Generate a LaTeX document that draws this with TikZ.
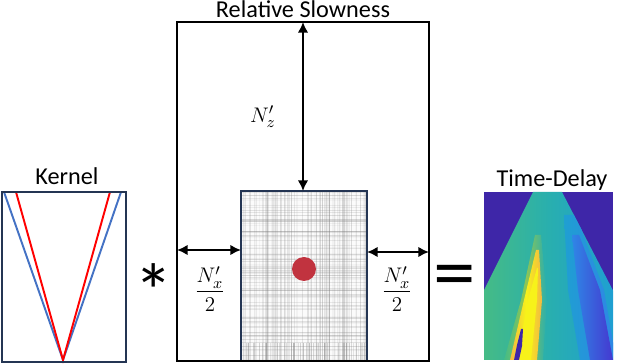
\documentclass[tikz,border=0pt]{standalone}
\usepackage{fontspec}
\setmainfont{Carlito}
\usetikzlibrary{positioning,arrows.meta}

\definecolor{boxnavy}{HTML}{243553}
\definecolor{kblue}{HTML}{4472C4}
\definecolor{dotred}{HTML}{C1333F}
\definecolor{pdark}{HTML}{3E26A8}
\definecolor{pgreen}{HTML}{45BB86}
\definecolor{pteal}{HTML}{29AFAE}
\definecolor{pcyan}{HTML}{1F9FD2}
\definecolor{pblue}{HTML}{2F86E6}
\definecolor{pdeep}{HTML}{4538D0}
\definecolor{pyellow}{HTML}{F7F21A}
\definecolor{porange}{HTML}{F2B842}
\definecolor{plime}{HTML}{8FC653}

\tikzset{
  title/.style={font=\fontsize{13.8}{16}\selectfont, anchor=base},
  sizelabel/.style={font=\fontsize{13}{15}\selectfont},
  dimarrow/.style={line width=1.2pt, {Latex[length=6pt,width=6pt]}-{Latex[length=6pt,width=6pt]}},
  gridline/.style={gray, line width=0.3pt}
}

\begin{document}
\begin{tikzpicture}[x=0.02cm,y=-0.02cm]
    \useasboundingbox (0,0) rectangle (623,364);

    % Kernel - two V shaped lines in a box
    \draw[kblue, line width=1.1pt] (4,192) -- (63,360) -- (121,192);
    \draw[red, line width=1.1pt] (16,192) -- (63,360) -- (110,192);
    \draw[boxnavy, line width=1.1pt] (2,192) rectangle (126,362);
    \node[title] (kernelT) at (67,185) {Kernel};

    % Convolution sign
    \node[font=\fontsize{44}{44}\selectfont] (conv) at (154,291) {*};

    % Relative slowness - grid box with the source dot
    \fill[gray!3] (241,191) rectangle (367,361);
    \pgfmathsetseed{17}
    \foreach \i in {1,...,110}{
        \pgfmathsetmacro{\gx}{241+126*rnd}
        \pgfmathsetmacro{\go}{0.04+0.16*rnd}
        \draw[gridline, opacity=\go] (\gx,191) -- (\gx,361);
    }
    \foreach \i in {1,...,110}{
        \pgfmathsetmacro{\gy}{191+170*rnd}
        \pgfmathsetmacro{\go}{0.04+0.16*rnd}
        \draw[gridline, opacity=\go] (241,\gy) -- (367,\gy);
    }
    \foreach \i in {1,...,60}{
        \pgfmathsetmacro{\gx}{241+126*rnd}
        \pgfmathsetmacro{\go}{0.1+0.25*rnd}
        \draw[gridline, opacity=\go] (\gx,343) -- (\gx,361);
    }
    \draw[boxnavy, line width=0.8pt] (241,191) rectangle (367,361);
    \fill[dotred] (304,269) circle (12);
    \draw[line width=1.2pt] (177,22) rectangle (429,361);
    \node[title] (slowT) at (303,18) {Relative Slowness};

    % Padding arrows
    \coordinate (slowN) at (303,22);
    \coordinate (gridN) at (303,191);
    \coordinate (slowW) at (177,250);
    \coordinate (gridW) at (241,250);
    \coordinate (gridE) at (367,252);
    \coordinate (slowE) at (429,252);
    \draw[dimarrow] (slowN) -- (gridN);
    \draw[dimarrow] (slowW) -- (gridW);
    \draw[dimarrow] (gridE) -- (slowE);
    \node[sizelabel] (nz) at (263,117) {$N'_z$};
    \node[sizelabel] (nxl) at (210,289) {$\displaystyle\frac{N'_x}{2}$};
    \node[sizelabel] (nxr) at (397,289) {$\displaystyle\frac{N'_x}{2}$};

    % Equals sign
    \node[font=\fontsize{44}{44}\selectfont, xscale=1.1] (eq) at (455,282) {=};

    % Time-delay map
    \begin{scope}
        \clip (484,192) rectangle (613,360);
        \fill[pdark] (484,192) rectangle (613,360);
        \clip (533,192) -- (562,192) -- (649,360) -- (449,360) -- cycle;
        \shade[left color=pgreen, right color=pcyan, middle color=pteal] (484,192) rectangle (613,360);
        % blue streak
        \shade[left color=pcyan, right color=pblue] (564,215) -- (576,215) -- (604,290) -- (616,360) -- (580,360) -- (568,290) -- cycle;
        \shade[left color=pblue, right color=pdeep] (572,235) -- (579,235) -- (600,290) -- (613,360) -- (590,360) -- (578,290) -- cycle;
        % yellow streak
        \shade[left color=pgreen, right color=pteal, middle color=plime] (535,235) -- (541,235) -- (547,300) -- (543,360) -- (504,360) -- (521,300) -- cycle;
        \shade[left color=porange, right color=porange, middle color=pyellow] (536,250) -- (539,250) -- (542,300) -- (537,360) -- (510,360) -- (524,300) -- cycle;
        \fill[pyellow] (537,268) -- (538,268) -- (537,300) -- (531,360) -- (517,360) -- (528,300) -- cycle;
        \fill[pdark] (521,329) -- (523,329) -- (522,346) -- (519,360) -- (514,360) -- (517,345) -- cycle;
    \end{scope}
    \node[title] (delayT) at (552,187) {Time-Delay};

\end{tikzpicture}
\end{document}
